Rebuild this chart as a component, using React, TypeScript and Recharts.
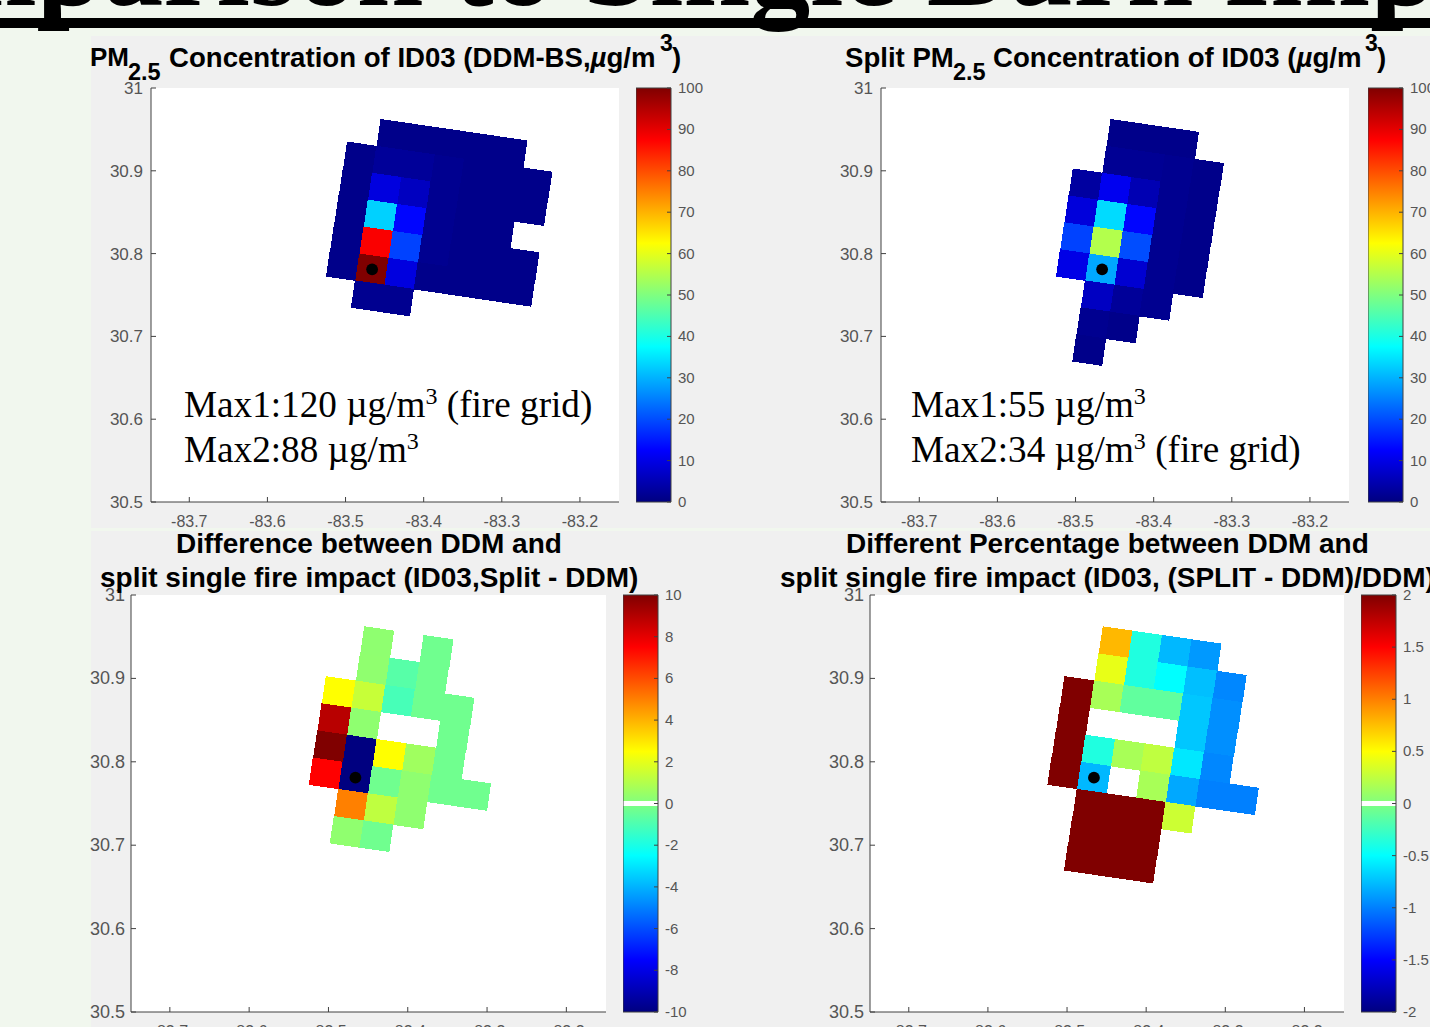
import React from 'react';
import { BarChart, Bar, ScatterChart, Scatter, XAxis, YAxis } from 'recharts';

const _ = null;

// rows run north to south, columns west to east, one cell per model grid box
const PM25_DDM = [
  [_, 1, 1, 1, 1, 1, _],
  [1, 2.5, 2.5, 1.6, 1, 1, 1],
  [1, 9.4, 6.3, 1.6, 1, 1, 1],
  [1, 33, 13, 1.6, 1, 1, _],
  [1, 88, 19, 1.6, 1, 1, 1],
  [1, 120, 9.4, 1, 1, 1, 1],
  [_, 1.6, 1.6, _, _, _, _],
  [_, _, _, _, _, _, _],
  [_, _, _, _, _, _, _],
];
const PM25_SPLIT = [
  [_, 1, 1, 1, _, _, _],
  [_, 2, 2, 1.6, 1, _, _],
  [3.2, 11, 5, 1.6, 1, _, _],
  [9, 34, 13, 1.6, 1, _, _],
  [19, 55, 20, 1.6, 1, _, _],
  [10, 29, 8, 1.6, 1, _, _],
  [_, 6.5, 2.5, 1.6, _, _, _],
  [_, 1.6, 1, _, _, _, _],
  [_, 1, _, _, _, _, _],
];
const DIFF_ABS = [
  [_, 0.3, _, -0.3, _, _, _],
  [_, 0.32, -0.8, -0.3, _, _, _],
  [2.5, 1.4, -1.1, -0.3, -0.3, _, _],
  [8.9, 0.3, _, _, -0.3, _, _],
  [10, -10, 2.5, 0.63, -0.3, _, _],
  [7.5, -10, -0.3, 0.3, -0.3, -0.3, _],
  [_, 5, 1.25, 0.3, _, _, _],
  [_, 0.32, -0.3, _, _, _, _],
  [_, _, _, _, _, _, _],
];
const DIFF_PCT = [
  [_, 0.78, -0.38, -0.78, -0.9, _, _],
  [_, 0.41, -0.38, -0.5, -0.75, -0.97, _],
  [2, 0.16, -0.12, -0.12, -0.72, -0.94, _],
  [2, _, _, _, -0.72, -0.94, _],
  [2, -0.38, 0.16, 0.25, -0.59, -0.97, _],
  [2, -0.78, _, 0.16, -0.84, -1, -1],
  [_, 2, 2, 2, 0.3, _, _],
  [_, 2, 2, 2, _, _, _],
  [_, 2, 2, 2, _, _, _],
];

const FIRE_LON = -83.466;
const FIRE_LAT = 30.781;
const LON_TICKS = [-83.7, -83.6, -83.5, -83.4, -83.3, -83.2];
const LAT_TICKS = [30.5, 30.6, 30.7, 30.8, 30.9, 31];
const PM_TICKS = [0, 10, 20, 30, 40, 50, 60, 70, 80, 90, 100];
const ABS_TICKS = [-10, -8, -6, -4, -2, 0, 2, 4, 6, 8, 10];
const PCT_TICKS = [-2, -1.5, -1, -0.5, 0, 0.5, 1, 1.5, 2];

// the model grid is tilted against lon/lat
const STEP_EAST = { lon: 0.03742, lat: -0.00519 };
const STEP_NORTH = { lon: 0.00549, lat: 0.03249 };
const FIRE_ROW = 5;
const FIRE_COL = 1;
const CELL_W = 30.2;
const CELL_H = 27.7;
const TILT = 8.2;

const SANS = '"Liberation Sans", Arial, sans-serif';
const SERIF = '"Liberation Serif", "Times New Roman", serif';
const AXIS = '#404040';
const LABEL = '#555';

const jet = (t: number) => {
  const k = Math.max(0, Math.min(1, t));
  const c = (x: number) => Math.round(255 * Math.max(0, Math.min(1, 1.5 - Math.abs(4 * k - x))));
  return `rgb(${c(3)},${c(2)},${c(1)})`;
};

const toCells = (rows: (number | null)[][]) =>
  rows.flatMap((row, r) =>
    row.flatMap((value, c) => {
      if (value === null) return [];
      const e = c - FIRE_COL;
      const n = FIRE_ROW - r;
      return [{
        lon: FIRE_LON + e * STEP_EAST.lon + n * STEP_NORTH.lon,
        lat: FIRE_LAT + e * STEP_EAST.lat + n * STEP_NORTH.lat,
        value,
      }];
    })
  );

const Map = ({ rows, min, max, left, top, width, height, labelGap, labelSize }: any) => {
  const marginLeft = 62;
  const marginTop = 14;
  const marginBottom = 34;
  const XTick = ({ x, y, payload }: any) => (
    <g>
      <line x1={x} x2={x} y1={y} y2={y - 5} stroke={AXIS} />
      <text x={x} y={y + 25} textAnchor="middle" fontSize={16} fill={LABEL} fontFamily={SANS}>{payload.value}</text>
    </g>
  );
  const YTick = ({ x, y, payload }: any) => (
    <g>
      <line x1={x} x2={x + 5} y1={y} y2={y} stroke={AXIS} />
      <text x={x - labelGap} y={y + 6} textAnchor="end" fontSize={labelSize} fill={LABEL} fontFamily={SANS}>{payload.value}</text>
    </g>
  );
  const CellShape = (p: any) => {
    const v = p.payload?.value ?? p.value;
    return (
      <rect
        x={p.cx - CELL_W / 2}
        y={p.cy - CELL_H / 2}
        width={CELL_W}
        height={CELL_H}
        fill={jet((v - min) / (max - min))}
        shapeRendering="crispEdges"
        transform={`rotate(${TILT} ${p.cx} ${p.cy})`}
      />
    );
  };
  return (
    <>
      <div style={{ position: 'absolute', left, top, width, height, background: '#fff' }} />
      <div style={{ position: 'absolute', left: left - marginLeft, top: top - marginTop }}>
        <ScatterChart
          width={width + marginLeft + 4}
          height={height + marginTop + marginBottom}
          margin={{ top: marginTop, right: 4, bottom: 0, left: 0 }}
        >
          <XAxis
            type="number"
            dataKey="lon"
            domain={[-83.749, -83.15]}
            ticks={LON_TICKS}
            height={marginBottom}
            tickLine={false}
            tickSize={0}
            tickMargin={0}
            tick={XTick}
            stroke={AXIS}
            allowDataOverflow
          />
          <YAxis
            type="number"
            dataKey="lat"
            domain={[30.5, 31]}
            ticks={LAT_TICKS}
            width={marginLeft}
            tickLine={false}
            tickSize={0}
            tickMargin={0}
            tick={YTick}
            stroke={AXIS}
            allowDataOverflow
          />
          <Scatter data={toCells(rows)} isAnimationActive={false} shape={CellShape} />
          <Scatter
            data={[{ lon: FIRE_LON, lat: FIRE_LAT }]}
            isAnimationActive={false}
            shape={(p: any) => <circle cx={p.cx} cy={p.cy} r={5.9} fill="#000" />}
          />
        </ScatterChart>
      </div>
    </>
  );
};

const ColorBar = ({ id, min, max, ticks, left, top, width, height, notch }: any) => {
  const stops: [number, string][] = [0, 0.125, 0.375, 0.625, 0.875, 1].map((t) => [t, jet(t)]);
  const all = notch
    ? [[0, jet(0)], [0.125, jet(0.125)], [0.375, jet(0.375)], [0.494, jet(0.494)], [0.494, '#fff'], [0.506, '#fff'], [0.506, jet(0.506)], [0.625, jet(0.625)], [0.875, jet(0.875)], [1, jet(1)]]
    : stops;
  const Tick = ({ x, y, payload }: any) => (
    <g>
      <line x1={x - 4} x2={x} y1={y} y2={y} stroke={AXIS} />
      <text x={x + 7} y={y + 5} fontSize={15} fill={LABEL} fontFamily={SANS}>{payload.value}</text>
    </g>
  );
  return (
    <div style={{ position: 'absolute', left, top: top - 10 }}>
      <BarChart
        width={width + 50}
        height={height + 22}
        data={[{ name: 'scale', low: min, span: max - min }]}
        margin={{ top: 10, right: 0, bottom: 12, left: 0 }}
        barCategoryGap={0}
        stackOffset="none"
      >
        <defs>
          <linearGradient id={id} x1="0" y1="1" x2="0" y2="0">
            {all.map(([t, color]: any, i: number) => (
              <stop key={i} offset={t} stopColor={color} />
            ))}
          </linearGradient>
        </defs>
        <XAxis dataKey="name" hide />
        <YAxis
          orientation="right"
          type="number"
          domain={[min, max]}
          ticks={ticks}
          width={50}
          axisLine={false}
          tickLine={false}
          tickSize={0}
          tickMargin={0}
          tick={Tick}
          interval={0}
        />
        <Bar dataKey={() => [min, max]} fill={`url(#${id})`} stroke={AXIS} strokeWidth={1} isAnimationActive={false} />
      </BarChart>
    </div>
  );
};

const Txt = ({ x, y, size, bold, font, children }: any) => (
  <div
    style={{
      position: 'absolute',
      left: x,
      top: y,
      fontFamily: font ?? SANS,
      fontSize: size,
      fontWeight: bold ? 700 : 400,
      lineHeight: 1,
      whiteSpace: 'nowrap',
      color: '#000',
    }}
  >
    {children}
  </div>
);

const App = () => (
  <div style={{ position: 'absolute', left: 0, top: 0, width: 1430, height: 1027, overflow: 'hidden', background: '#f1f7ee' }}>
    <div style={{ position: 'absolute', left: 91, top: 36, width: 1339, height: 492, background: '#f0f0f0' }} />
    <div style={{ position: 'absolute', left: 91, top: 531, width: 1339, height: 496, background: '#f0f0f0' }} />

    <Txt x={-210} y={-95.5} size={120} bold font={SERIF}>Comparison to Single Burn Impact</Txt>
    <div style={{ position: 'absolute', left: 0, top: 17.5, width: 1430, height: 10.5, background: '#000' }} />

    <Map rows={PM25_DDM} min={0} max={100} left={151} top={88} width={468} height={414} labelGap={8} labelSize={17} />
    <ColorBar id="pm-a" min={0} max={100} ticks={PM_TICKS} left={636} top={88} width={35} height={414} />
    <Map rows={PM25_SPLIT} min={0} max={100} left={881} top={88} width={468} height={414} labelGap={8} labelSize={17} />
    <ColorBar id="pm-b" min={0} max={100} ticks={PM_TICKS} left={1368} top={88} width={35} height={414} />
    <Map rows={DIFF_ABS} min={-10} max={10} left={131} top={595} width={475} height={417} labelGap={6} labelSize={18} />
    <ColorBar id="abs" min={-10} max={10} ticks={ABS_TICKS} left={623} top={595} width={35} height={417} notch />
    <Map rows={DIFF_PCT} min={-2} max={2} left={870} top={595} width={474} height={417} labelGap={6} labelSize={18} />
    <ColorBar id="pct" min={-2} max={2} ticks={PCT_TICKS} left={1361} top={595} width={35} height={417} notch />

    <Txt x={90} y={44} size={26} bold>PM</Txt>
    <Txt x={128} y={61} size={23.5} bold>2.5</Txt>
    <Txt x={169} y={44} size={27.6} bold>Concentration of ID03 (DDM-BS,<i>µ</i>g/m</Txt>
    <Txt x={660} y={32} size={23} bold>3</Txt>
    <Txt x={672} y={44} size={27.6} bold>)</Txt>

    <Txt x={845} y={44} size={27.6} bold>Split PM</Txt>
    <Txt x={953} y={61} size={23.5} bold>2.5</Txt>
    <Txt x={993} y={44} size={27.6} bold>Concentration of ID03 (<i>µ</i>g/m</Txt>
    <Txt x={1365} y={32} size={23} bold>3</Txt>
    <Txt x={1377} y={44} size={27.6} bold>)</Txt>

    <Txt x={176} y={530} size={28} bold>Difference between DDM and</Txt>
    <Txt x={100} y={564} size={28} bold>split single fire impact (ID03,Split - DDM)</Txt>
    <Txt x={846} y={530} size={28} bold>Different Percentage between DDM and</Txt>
    <Txt x={780} y={564} size={28} bold>split single fire impact (ID03, (SPLIT - DDM)/DDM)</Txt>

    <Txt x={184} y={386} size={37.2} font={SERIF}>Max1:120 µg/m<sup style={{ fontSize: 24, lineHeight: 0 }}>3</sup> (fire grid)</Txt>
    <Txt x={184} y={431} size={37.2} font={SERIF}>Max2:88 µg/m<sup style={{ fontSize: 24, lineHeight: 0 }}>3</sup></Txt>
    <Txt x={911} y={386} size={37.2} font={SERIF}>Max1:55 µg/m<sup style={{ fontSize: 24, lineHeight: 0 }}>3</sup></Txt>
    <Txt x={911} y={431} size={37.2} font={SERIF}>Max2:34 µg/m<sup style={{ fontSize: 24, lineHeight: 0 }}>3</sup> (fire grid)</Txt>
  </div>
);

export default App;
